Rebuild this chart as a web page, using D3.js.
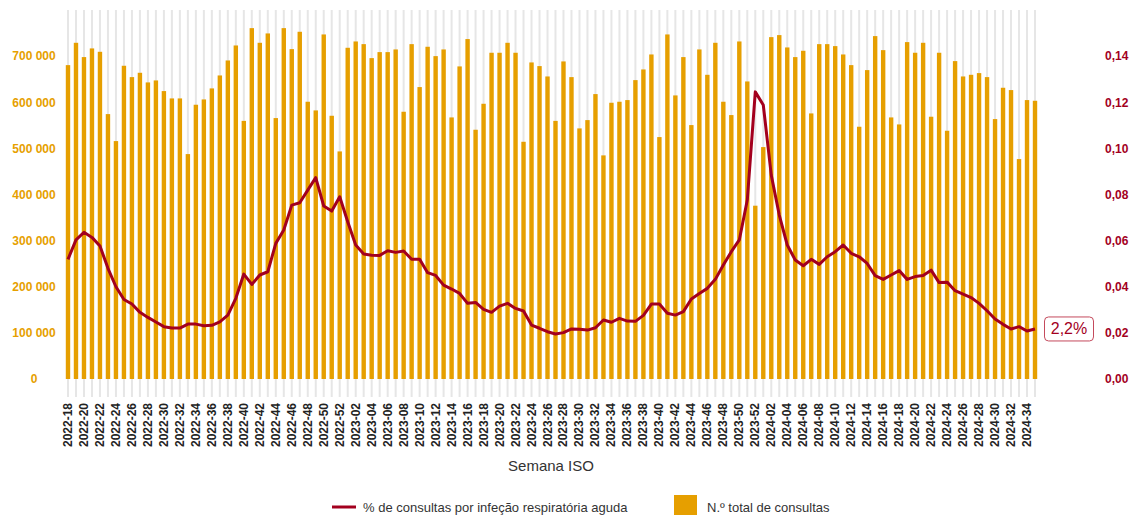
<!DOCTYPE html>
<html>
<head>
<meta charset="utf-8">
<script src="https://cdn.jsdelivr.net/npm/d3@7"></script>
<style>
  body { margin: 0; background: #fff; }
  svg { display: block; font-family: Arial, "Liberation Sans", sans-serif; }
</style>
</head>
<body>
<svg id="chart" width="1133" height="515"></svg>
<script>
// semanas ISO 2022-18 .. 2024-35
var weekRanges = [[2022, 18, 52], [2023, 1, 52], [2024, 1, 35]];
var weeks = [];
weekRanges.forEach(function (r) {
    for (var w = r[1]; w <= r[2]; w++) {
        weeks.push(r[0] + "-" + (w < 10 ? "0" + w : w));
    }
});

// N.º total de consultas
var totalConsultas = [
    680500, 728900, 697900, 716700, 709400, 574300, 515800, 679100, 654500, 663900,
    643000, 647300, 624200, 608300, 608300, 487600, 594600, 606100, 630000, 658100,
    690600, 723100, 559600, 760700, 728900, 749200, 565700, 760700, 715200, 752800,
    601100, 582300, 747000, 570700, 493400, 718100, 731800, 726000, 695700, 708700,
    708700, 714500, 579400, 726000, 632900, 720300, 700000, 714500, 567100, 677700,
    737000, 540400, 596700, 707300, 707300, 728900, 707300, 514300, 686300, 678400,
    655900, 559600, 688500, 654500, 543300, 561300, 617700, 484800, 598900, 601100,
    604700, 648000, 671100, 703600, 524500, 747000, 614800, 697900, 550500, 714500,
    659500, 728900, 601100, 572200, 731800, 645100, 375700, 502800, 741200, 745600,
    718800, 697900, 711600, 575800, 726000, 726000, 721700, 703600, 680500, 546900,
    669700, 743400, 713000, 567100, 551900, 730400, 707300, 728900, 568600, 707300,
    538200, 689200, 655900, 659500, 663200, 654500, 563500, 631400, 626400, 476800,
    604700, 603200
];

// % de consultas por infeção respiratória aguda
var pctIRA = [
    0.0519, 0.0603, 0.0636, 0.0614, 0.0577, 0.0480, 0.0400, 0.0345, 0.0325, 0.0289,
    0.0267, 0.0247, 0.0227, 0.0221, 0.0221, 0.0238, 0.0238, 0.0231, 0.0233, 0.0248,
    0.0277, 0.0350, 0.0455, 0.0410, 0.0451, 0.0465, 0.0588, 0.0646, 0.0754, 0.0764,
    0.0819, 0.0873, 0.0750, 0.0728, 0.0790, 0.0682, 0.0581, 0.0542, 0.0537, 0.0536,
    0.0556, 0.0549, 0.0555, 0.0519, 0.0519, 0.0461, 0.0449, 0.0407, 0.0390, 0.0371,
    0.0328, 0.0332, 0.0302, 0.0289, 0.0316, 0.0328, 0.0306, 0.0295, 0.0234, 0.0220,
    0.0205, 0.0195, 0.0201, 0.0217, 0.0216, 0.0212, 0.0222, 0.0256, 0.0246, 0.0263,
    0.0251, 0.0250, 0.0276, 0.0325, 0.0325, 0.0285, 0.0277, 0.0292, 0.0347, 0.0371,
    0.0393, 0.0432, 0.0494, 0.0552, 0.0603, 0.0776, 0.1245, 0.1188, 0.0884, 0.0711,
    0.0581, 0.0516, 0.0491, 0.0519, 0.0497, 0.0530, 0.0552, 0.0581, 0.0545, 0.0530,
    0.0501, 0.0448, 0.0432, 0.0451, 0.0470, 0.0432, 0.0444, 0.0449, 0.0472, 0.0418,
    0.0420, 0.0383, 0.0368, 0.0353, 0.0328, 0.0296, 0.0260, 0.0237, 0.0217, 0.0227,
    0.0208, 0.0217
];

var leftTicks = [0, 100000, 200000, 300000, 400000, 500000, 600000, 700000];
var rightTicks = [0, 0.02, 0.04, 0.06, 0.08, 0.10, 0.12, 0.14];
var lastLabel = "2,2%";
var legendLine = "% de consultas por infeção respiratória aguda";
var legendBar = "N.º total de consultas";
var xTitle = "Semana ISO";

var ORANGE = "#e69f00";
var RED = "#a3001e";
var FONT = "Arial, 'Liberation Sans', sans-serif";

var pt = d3.formatLocale({ decimal: ",", thousands: "\u00a0", grouping: [3], currency: ["", "€"] });
var fmtLeft = pt.format(",.0f");
var fmtRight = pt.format(".2f");

var svg = d3.select("#chart");
var plotTop = 10, plotBottom = 379;

var x = d3.scaleBand().domain(weeks).range([64, 1039]).paddingInner(0.45).paddingOuter(0.225);
var yL = d3.scaleLinear().domain([0, 800000]).range([plotBottom, plotTop]);
var yR = d3.scaleLinear().domain([0, 0.16]).range([plotBottom, plotTop]);

function cx(d) { return x(d) + x.bandwidth() / 2; }

// linhas verticais de fundo
svg.append("g").selectAll("line").data(weeks).enter().append("line")
    .attr("x1", cx).attr("x2", cx)
    .attr("y1", plotTop).attr("y2", 397)
    .attr("stroke", "#e6e6e6")
    .attr("stroke-width", 2);

// barras
svg.append("g").selectAll("rect").data(totalConsultas).enter().append("rect")
    .attr("x", function (d, i) { return x(weeks[i]); })
    .attr("y", function (d) { return yL(d); })
    .attr("width", x.bandwidth())
    .attr("height", function (d) { return plotBottom - yL(d); })
    .attr("fill", ORANGE);

// linha %
var line = d3.line()
    .x(function (d, i) { return cx(weeks[i]); })
    .y(function (d) { return yR(d); });

svg.append("path").datum(pctIRA)
    .attr("d", line)
    .attr("fill", "none")
    .attr("stroke", RED)
    .attr("stroke-width", 3)
    .attr("stroke-linejoin", "round");

// eixo esquerdo (etiquetas centradas)
var gL = svg.append("g")
    .attr("transform", "translate(34,0)")
    .call(d3.axisLeft(yL).tickValues(leftTicks).tickFormat(fmtLeft).tickSize(0).tickPadding(0));
gL.select(".domain").remove();
gL.selectAll("text")
    .attr("text-anchor", "middle")
    .attr("fill", ORANGE)
    .attr("font-size", 12)
    .attr("font-weight", "bold")
    .attr("font-family", FONT);

// eixo direito
var gR = svg.append("g")
    .attr("transform", "translate(1105,0)")
    .call(d3.axisRight(yR).tickValues(rightTicks).tickFormat(fmtRight).tickSize(0).tickPadding(0));
gR.select(".domain").remove();
gR.selectAll("text")
    .attr("fill", RED)
    .attr("font-size", 12)
    .attr("font-weight", "bold")
    .attr("font-family", FONT);

// eixo x (uma etiqueta a cada duas semanas)
var xTicks = weeks.filter(function (d, i) { return i % 2 === 0; });
var gX = svg.append("g")
    .attr("transform", "translate(0,403)")
    .call(d3.axisBottom(x).tickValues(xTicks).tickSize(0).tickPadding(0));
gX.select(".domain").remove();
gX.selectAll("text")
    .attr("transform", "rotate(-90)")
    .attr("text-anchor", "end")
    .attr("dominant-baseline", "central")
    .attr("x", 0).attr("y", 0).attr("dy", null)
    .attr("fill", "#222")
    .attr("font-size", 12)
    .attr("font-weight", "bold")
    .attr("font-family", FONT);

svg.append("text")
    .attr("x", 551).attr("y", 471)
    .attr("text-anchor", "middle")
    .attr("font-size", 15)
    .attr("fill", "#333")
    .text(xTitle);

// etiqueta do último valor
var lastY = yR(pctIRA[pctIRA.length - 1]);
svg.append("rect")
    .attr("x", 1044.5).attr("y", lastY - 12)
    .attr("width", 49).attr("height", 24)
    .attr("rx", 4)
    .attr("fill", "#fff")
    .attr("stroke", "#c44a5c")
    .attr("stroke-width", 1);
svg.append("text")
    .attr("x", 1069).attr("y", lastY)
    .attr("text-anchor", "middle")
    .attr("dominant-baseline", "central")
    .attr("font-size", 16)
    .attr("fill", RED)
    .text(lastLabel);

// legenda
var leg = svg.append("g");
leg.append("line")
    .attr("x1", 332).attr("x2", 356)
    .attr("y1", 507).attr("y2", 507)
    .attr("stroke", RED).attr("stroke-width", 3);
leg.append("text")
    .attr("x", 363).attr("y", 507)
    .attr("dominant-baseline", "central")
    .attr("font-size", 13).attr("fill", "#333")
    .text(legendLine);
leg.append("rect")
    .attr("x", 674).attr("y", 495)
    .attr("width", 23).attr("height", 23)
    .attr("fill", ORANGE);
leg.append("text")
    .attr("x", 707).attr("y", 507)
    .attr("dominant-baseline", "central")
    .attr("font-size", 13).attr("fill", "#333")
    .text(legendBar);
</script>
</body>
</html>
